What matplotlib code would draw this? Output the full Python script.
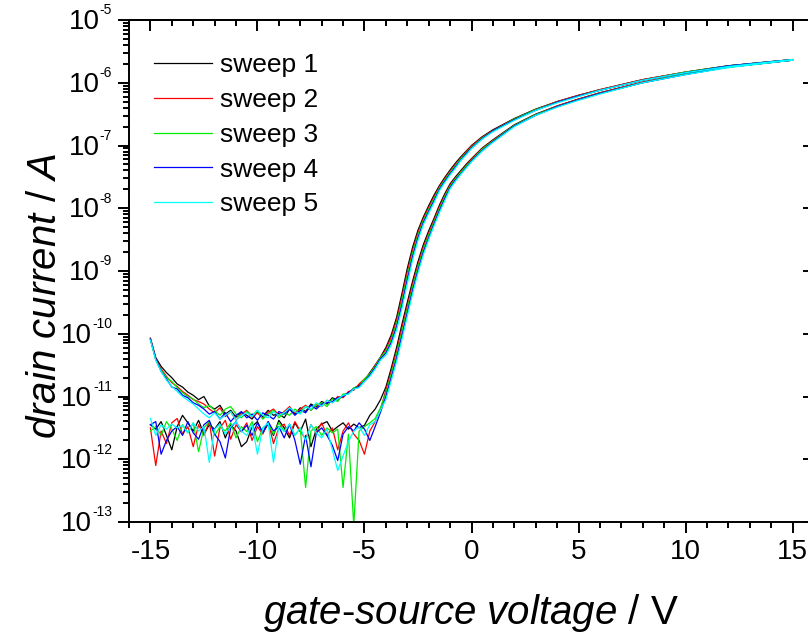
import numpy as np
import matplotlib
matplotlib.use("Agg")
import matplotlib.pyplot as plt
from matplotlib.ticker import MultipleLocator, LogLocator, NullFormatter, FixedLocator

plt.rcParams['font.family'] = ['Liberation Sans', 'DejaVu Sans']
plt.rcParams['mathtext.fontset'] = 'custom'
plt.rcParams['mathtext.rm'] = 'Liberation Sans'
plt.rcParams['mathtext.it'] = 'Liberation Sans:italic'
plt.rcParams['axes.unicode_minus'] = False

# gate voltage grids (V): noisy off-state part, then turn-on / on-state part
v_off = np.arange(-15, -4.2, 0.25)
v_on = [-4, -3.75, -3.5, -3.25, -3, -2.75, -2.5, -2.25, -2, -1.75, -1.5, -1.25, -1,
        -0.75, -0.5, -0.25, 0, 0.5, 1, 2, 3, 4, 5, 6, 8, 10, 12, 15]

labels = ["sweep 1", "sweep 2", "sweep 3", "sweep 4", "sweep 5"]
colors = ["#000000", "#ff0000", "#00ee00", "#0000ff", "#00ffff"]

# log10(drain current / A), forward sweep (-15 -> 15 V), off-state part
fwd_off = [
    [-10.07, -10.38, -10.52, -10.62, -10.70, -10.80, -10.85, -10.93, -10.98, -11.05, -11.00, -11.15, -11.20, -11.14, -11.28,
     -11.22, -11.33, -11.25, -11.30, -11.36, -11.24, -11.32, -11.22, -11.30, -11.27, -11.34, -11.20, -11.28, -11.18, -11.24,
     -11.12, -11.17, -11.08, -11.12, -11.02, -11.06, -10.98, -10.95, -10.87, -10.82, -10.74, -10.62, -10.50, -10.37],
    [-10.08, -10.40, -10.56, -10.68, -10.78, -10.84, -10.92, -10.98, -11.05, -11.08, -11.12, -11.20, -11.26, -11.18, -11.32,
     -11.24, -11.38, -11.28, -11.22, -11.33, -11.26, -11.35, -11.25, -11.20, -11.30, -11.24, -11.16, -11.26, -11.20, -11.14,
     -11.22, -11.12, -11.16, -11.06, -11.10, -11.00, -11.02, -10.92, -10.90, -10.80, -10.72, -10.64, -10.50, -10.38],
    [-10.09, -10.42, -10.58, -10.70, -10.76, -10.86, -10.94, -11.00, -11.04, -11.12, -11.18, -11.14, -11.22, -11.30, -11.20,
     -11.16, -11.28, -11.34, -11.24, -11.30, -11.22, -11.36, -11.28, -11.22, -11.34, -11.26, -11.30, -11.20, -11.26, -11.16,
     -11.22, -11.14, -11.10, -11.16, -11.04, -11.08, -10.96, -10.96, -10.86, -10.84, -10.72, -10.64, -10.52, -10.38],
    [-10.09, -10.40, -10.60, -10.72, -10.85, -10.88, -10.98, -11.02, -11.10, -11.14, -11.20, -11.28, -11.24, -11.36, -11.26,
     -11.40, -11.30, -11.24, -11.34, -11.28, -11.38, -11.26, -11.30, -11.36, -11.24, -11.28, -11.20, -11.30, -11.22, -11.26,
     -11.14, -11.20, -11.12, -11.10, -11.08, -11.02, -11.00, -10.94, -10.88, -10.84, -10.76, -10.66, -10.54, -10.40],
    [-10.10, -10.42, -10.60, -10.74, -10.84, -10.92, -11.00, -11.06, -11.12, -11.20, -11.28, -11.34, -11.26, -11.36, -11.30,
     -11.24, -11.38, -11.30, -11.26, -11.32, -11.22, -11.30, -11.34, -11.24, -11.30, -11.26, -11.18, -11.24, -11.28, -11.16,
     -11.20, -11.10, -11.16, -11.06, -11.10, -11.04, -10.98, -10.96, -10.88, -10.86, -10.76, -10.68, -10.56, -10.42],
]

# forward sweep, on part (v_on)
fwd_on = [
    [-10.22, -10.02, -9.74, -9.36, -8.96, -8.62, -8.35, -8.14, -7.96, -7.79, -7.64, -7.51, -7.39, -7.28,
     -7.18, -7.09, -7.00, -6.86, -6.75, -6.57, -6.42, -6.30, -6.20, -6.11, -5.95, -5.83, -5.73, -5.63],
    [-10.25, -10.06, -9.79, -9.42, -9.02, -8.67, -8.39, -8.17, -7.99, -7.82, -7.66, -7.53, -7.41, -7.30,
     -7.20, -7.10, -7.01, -6.87, -6.76, -6.58, -6.43, -6.30, -6.20, -6.11, -5.95, -5.83, -5.73, -5.63],
    [-10.28, -10.10, -9.84, -9.48, -9.08, -8.72, -8.43, -8.20, -8.02, -7.85, -7.68, -7.55, -7.43, -7.32,
     -7.21, -7.12, -7.03, -6.88, -6.77, -6.58, -6.43, -6.31, -6.21, -6.12, -5.96, -5.83, -5.73, -5.63],
    [-10.31, -10.14, -9.89, -9.54, -9.14, -8.77, -8.47, -8.23, -8.05, -7.88, -7.70, -7.57, -7.45, -7.34,
     -7.23, -7.13, -7.04, -6.89, -6.77, -6.59, -6.44, -6.31, -6.21, -6.12, -5.96, -5.84, -5.73, -5.63],
    [-10.34, -10.18, -9.94, -9.60, -9.20, -8.82, -8.51, -8.26, -8.08, -7.91, -7.72, -7.59, -7.47, -7.36,
     -7.24, -7.15, -7.05, -6.90, -6.78, -6.60, -6.44, -6.32, -6.22, -6.12, -5.96, -5.84, -5.74, -5.63],
]

# reverse sweep (15 -> -15 V), on part (v_on)
rev_on = [
    [-10.85, -10.55, -10.22, -9.85, -9.50, -9.16, -8.85, -8.58, -8.36, -8.16, -7.95, -7.77, -7.61, -7.50,
     -7.40, -7.30, -7.21, -7.04, -6.91, -6.67, -6.50, -6.37, -6.26, -6.16, -5.99, -5.86, -5.75, -5.64],
    [-10.90, -10.60, -10.28, -9.91, -9.56, -9.21, -8.90, -8.62, -8.40, -8.19, -7.98, -7.80, -7.63, -7.52,
     -7.42, -7.32, -7.22, -7.05, -6.92, -6.68, -6.51, -6.37, -6.26, -6.16, -5.99, -5.86, -5.75, -5.64],
    [-10.95, -10.65, -10.33, -9.97, -9.61, -9.26, -8.94, -8.66, -8.43, -8.22, -8.01, -7.82, -7.65, -7.53,
     -7.43, -7.33, -7.24, -7.06, -6.93, -6.68, -6.51, -6.38, -6.27, -6.17, -6.00, -5.86, -5.75, -5.64],
    [-11.00, -10.70, -10.39, -10.03, -9.67, -9.31, -8.99, -8.70, -8.47, -8.25, -8.04, -7.85, -7.67, -7.55,
     -7.45, -7.35, -7.25, -7.08, -6.94, -6.69, -6.52, -6.38, -6.27, -6.17, -6.00, -5.87, -5.75, -5.64],
    [-11.05, -10.75, -10.44, -10.09, -9.72, -9.36, -9.03, -8.74, -8.50, -8.28, -8.07, -7.88, -7.69, -7.57,
     -7.46, -7.36, -7.26, -7.09, -6.95, -6.70, -6.52, -6.39, -6.28, -6.18, -6.00, -5.87, -5.76, -5.64],
]

# reverse sweep, noisy off-state part (v_off)
rev_off = [
    [-11.45, -11.52, -11.40, -11.62, -11.85, -11.48, -11.30, -11.42, -11.55, -11.38, -11.60, -11.45, -11.52, -11.40, -11.66,
     -11.45, -11.55, -11.80, -11.72, -11.48, -11.40, -11.58, -11.44, -11.62, -11.38, -11.50, -11.66, -11.42, -11.56, -11.36,
     -11.80, -11.52, -11.44, -11.40, -11.55, -11.48, -11.42, -11.52, -11.44, -11.50, -11.46, -11.30, -11.20, -11.05],
    [-11.50, -12.10, -11.55, -11.75, -11.42, -11.35, -11.60, -11.48, -11.80, -11.45, -11.62, -11.40, -11.95, -11.50, -11.38,
     -11.68, -11.45, -11.56, -11.42, -11.70, -11.48, -11.60, -11.40, -11.75, -11.50, -11.44, -11.62, -11.40, -11.55, -11.68,
     -11.45, -11.58, -11.42, -11.62, -11.50, -11.85, -11.55, -11.42, -11.60, -11.70, -11.92, -11.55, -11.40, -11.20],
    [-11.55, -11.48, -11.62, -11.40, -11.52, -11.70, -11.45, -11.58, -11.42, -11.88, -11.50, -11.40, -11.62, -11.48, -11.55,
     -11.42, -11.66, -11.48, -11.56, -11.40, -11.72, -11.50, -11.44, -11.60, -11.42, -11.55, -11.45, -11.62, -11.50, -12.45,
     -11.55, -11.48, -11.62, -11.50, -11.58, -11.52, -12.45, -11.60, -13.05, -11.55, -11.48, -11.42, -11.35, -11.18],
    [-11.45, -11.40, -11.92, -11.70, -11.55, -11.48, -11.62, -11.40, -11.58, -11.68, -11.45, -11.38, -11.60, -11.72, -11.98,
     -11.50, -11.40, -11.56, -11.46, -11.62, -11.42, -11.58, -11.40, -11.55, -11.48, -11.66, -11.44, -11.70, -12.08, -11.62,
     -12.12, -11.58, -11.50, -11.62, -11.78, -12.02, -11.60, -11.48, -11.55, -11.42, -11.52, -11.70, -11.48, -11.25],
    [-11.35, -11.62, -11.45, -11.52, -11.44, -11.50, -11.46, -11.58, -11.42, -11.55, -11.48, -12.05, -11.52, -11.44, -11.60,
     -11.48, -11.40, -11.55, -11.62, -11.45, -11.92, -11.50, -11.42, -12.05, -11.48, -11.56, -11.44, -11.62, -11.50, -11.70,
     -11.45, -11.58, -11.66, -11.52, -11.85, -12.18, -11.95, -11.72, -11.55, -11.48, -11.62, -11.45, -11.40, -11.22],
]

x_ticks = [-15, -10, -5, 0, 5, 10, 15]
y_exps = [-13, -12, -11, -10, -9, -8, -7, -6, -5]

W, H = 808, 637
fig = plt.figure(figsize=(W / 100, H / 100), dpi=100)
ax = fig.add_axes([129 / W, 1 - 522 / H, 685 / W, 502 / H])

for k in range(5):
    v = np.concatenate([v_off, v_on, v_on[::-1], v_off[::-1]])
    logi = np.concatenate([fwd_off[k], fwd_on[k], rev_on[k][::-1], rev_off[k][::-1]])
    ax.plot(v, 10.0 ** logi, color=colors[k], lw=0.9, label=labels[k])

ax.set_yscale('log')
ax.set_xlim(-16, 16)
ax.set_ylim(1e-13, 1e-5)

ax.set_xticks(x_ticks)
ax.set_xticklabels([str(t) for t in x_ticks])
ax.xaxis.set_minor_locator(MultipleLocator(1))
ax.yaxis.set_major_locator(FixedLocator([10.0 ** e for e in y_exps]))
ax.yaxis.set_minor_locator(LogLocator(base=10, subs=np.arange(2, 10), numticks=20))
ax.yaxis.set_major_formatter(NullFormatter())
ax.yaxis.set_minor_formatter(NullFormatter())

for s in ax.spines.values():
    s.set_linewidth(1.4)
ax.tick_params(which='both', direction='out', top=False, right=False, width=1.4)
ax.tick_params(which='major', length=8)
ax.tick_params(which='minor', length=4.3)
ax.tick_params(axis='x', labelsize=20, pad=4)

# mirrored ticks pointing inward on top and right
top = ax.secondary_xaxis('top')
top.set_xticks(x_ticks)
top.xaxis.set_minor_locator(MultipleLocator(1))
top.tick_params(which='both', direction='in', labeltop=False, width=1.4)
top.tick_params(which='major', length=8)
top.tick_params(which='minor', length=4.3)
top.spines['top'].set_linewidth(1.4)

right = ax.secondary_yaxis('right')
right.yaxis.set_major_locator(FixedLocator([10.0 ** e for e in y_exps]))
right.yaxis.set_minor_locator(LogLocator(base=10, subs=np.arange(2, 10), numticks=20))
right.tick_params(which='both', direction='in', labelright=False, width=1.4)
right.tick_params(which='major', length=8)
right.tick_params(which='minor', length=4.3)
right.spines['right'].set_linewidth(1.4)

# y tick labels: "10" with a small raised exponent, right aligned
digit_w = {'-': 0.333, '0': 0.556, '1': 0.556, '2': 0.556, '3': 0.556, '4': 0.556,
           '5': 0.556, '6': 0.556, '7': 0.556, '8': 0.556, '9': 0.556}
exp_size = 10
for e in y_exps:
    s = str(e)
    w = sum(digit_w[c] for c in s) * exp_size
    ax.annotate(s, xy=(0, 10.0 ** e), xycoords=('axes fraction', 'data'),
                xytext=(-12.2, 7), textcoords='offset points',
                ha='right', va='center', fontsize=exp_size, annotation_clip=False)
    ax.annotate('10', xy=(0, 10.0 ** e), xycoords=('axes fraction', 'data'),
                xytext=(-12.2 - w, -1.5), textcoords='offset points',
                ha='right', va='center', fontsize=20, annotation_clip=False)

fig.text(471 / W, 1 - 613 / H, r'$\mathit{gate}$-$\mathit{source\ voltage}$ / V',
         ha='center', va='center', fontsize=29)
fig.text(45 / W, 1 - 296 / H, r'$\mathit{drain\ current}$ / $\mathit{A}$',
         ha='center', va='center', rotation=90, fontsize=29)

ax.legend(loc='upper left', bbox_to_anchor=(0.0365, 0.934), frameon=False, fontsize=19,
          handlelength=2.2, handletextpad=0.3, labelspacing=0.41, borderpad=0, borderaxespad=0)

fig.savefig('out.png', dpi=100)
